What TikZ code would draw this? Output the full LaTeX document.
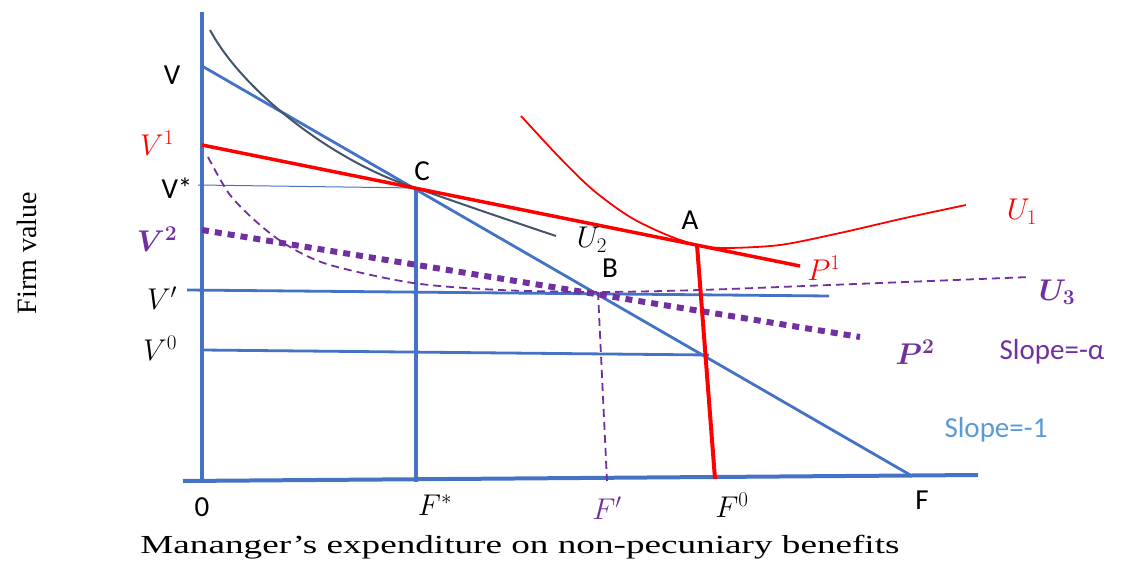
\RequirePackage{fix-cm}
\documentclass[tikz,border=0pt]{standalone}
\usepackage{fontspec}
\usepackage{bm}
\usepackage{graphicx}
\newfontfamily\lblfont{Carlito}
\newfontfamily\capfont{Liberation Serif}
\definecolor{ecoBlue}{HTML}{4472C4}
\definecolor{ecoRed}{HTML}{FF0000}
\definecolor{ecoPurple}{HTML}{7030A0}
\definecolor{ecoSlate}{HTML}{44546A}
\definecolor{ecoLight}{HTML}{5B9BD5}

\begin{document}
\begin{tikzpicture}[x=1pt, y=-1pt,
    axis/.style={ecoBlue, line width=4pt},
    bline/.style={ecoBlue, line width=2.8pt},
    rline/.style={ecoRed, line width=3.5pt},
    pdot/.style={ecoPurple, line width=6pt, dash pattern=on 7pt off 6pt},
    pdash/.style={ecoPurple, line width=1.8pt, dash pattern=on 8pt off 5pt},
    lab/.style={font=\fontsize{29}{33}\selectfont\lblfont, inner sep=1pt},
    mlab/.style={font=\fontsize{30}{34}\selectfont, inner sep=1pt}]
  \useasboundingbox (0,0) rectangle (1132,561);

  % key points
  \coordinate (O) at (202,480);
  \coordinate (Ytop) at (202,12);
  \coordinate (Xl) at (183,481);
  \coordinate (Xr) at (978,475);
  \coordinate (V) at (202,66);
  \coordinate (F) at (912,476);
  \coordinate (C) at (416,188);
  \coordinate (Cb) at (416,482);
  \coordinate (V1) at (202,145);
  \coordinate (P1) at (800,266);
  \coordinate (A) at (697,245);
  \coordinate (F0) at (715,479);
  \coordinate (Vs) at (198,185);
  \coordinate (Vp) at (187,290);
  \coordinate (Vpr) at (829,296);
  \coordinate (V0) at (202,350);
  \coordinate (V0r) at (709,355);
  \coordinate (V2) at (202,230);
  \coordinate (P2) at (860,337);
  \coordinate (B) at (598,292);
  \coordinate (Fp) at (607,481);
  \coordinate (U2s) at (210,30);
  \coordinate (U2e) at (556,236);

  % axes and blue lines
  \draw[axis] (Ytop) -- (O);
  \draw[axis] (Xl) -- (Xr);
  \draw[bline] (V) -- (F);
  \draw[axis] (C) -- (Cb);
  \draw[ecoBlue, line width=1pt] (Vs) -- (C);
  \draw[bline] (Vp) -- (Vpr);
  \draw[bline] (V0) -- (V0r);

  % indifference curves
  \draw[ecoSlate, line width=2pt] (U2s) .. controls (245,95) and (340,165) .. (C)
    .. controls (470,207) and (520,224) .. (U2e);
  \draw[pdash] plot[smooth] coordinates
    {(208,157) (230,195) (260,225) (290,247) (330,265) (413,283) (500,290) (B) (700,290) (830,285) (1030,277)};
  \draw[ecoRed, line width=1.8pt] plot[smooth] coordinates
    {(521,116) (560,158) (593,190) (630,217) (667,235) (A) (725,248) (780,245) (840,233) (905,218) (966,205)};

  % price lines
  \draw[pdot] (V2) -- (P2);
  \draw[pdash] (B) -- (Fp);
  \draw[rline] (V1) -- (P1);
  \draw[ecoRed, line width=4pt] (A) -- (F0);

  % labels
  \node[lab] (lV) at (172,75) {V};
  \node[mlab, ecoRed] (lV1) at (157,143) {$V^1$};
  \node[lab] (lVs) at (177,188) {V*};
  \node[mlab, ecoPurple] (lV2) at (157,239) {$\bm{V^2}$};
  \node[mlab] (lVp) at (162,298) {$V'$};
  \node[mlab] (lV0) at (160,348) {$V^0$};
  \node[lab] (l0) at (202,507) {0};
  \node[mlab] (lFs) at (435,505) {$F^*$};
  \node[mlab, ecoPurple] (lFp) at (607,508) {$F'$};
  \node[mlab] (lF0) at (732,505) {$F^0$};
  \node[lab] (lF) at (922,500) {F};
  \node[lab] (lC) at (422,171) {C};
  \node[lab] (lA) at (690,220) {A};
  \node[lab] (lB) at (610,268) {B};
  \node[mlab] (lU2) at (592,240) {$U_2$};
  \node[mlab, ecoRed] (lP1) at (824,268) {$P^1$};
  \node[mlab, ecoRed] (lU1) at (1022,212) {$U_1$};
  \node[mlab, ecoPurple] (lU3) at (1057,292) {$\bm{U_3}$};
  \node[mlab, ecoPurple] (lP2) at (915,352) {$\bm{P^2}$};
  \node[lab, ecoPurple] (lSa) at (1052,352) {Slope=-α};
  \node[lab, ecoLight] (lS1) at (996,430) {Slope=-1};
  \node[font=\fontsize{28}{32}\selectfont\capfont, rotate=90] (ylab) at (27,253) {Firm value};
  \node[font=\fontsize{26}{30}\selectfont\capfont] (xlab) at (520,547)
    {\scalebox{1.43}[1]{Mananger’s expenditure on non-pecuniary benefits}};
\end{tikzpicture}
\end{document}
